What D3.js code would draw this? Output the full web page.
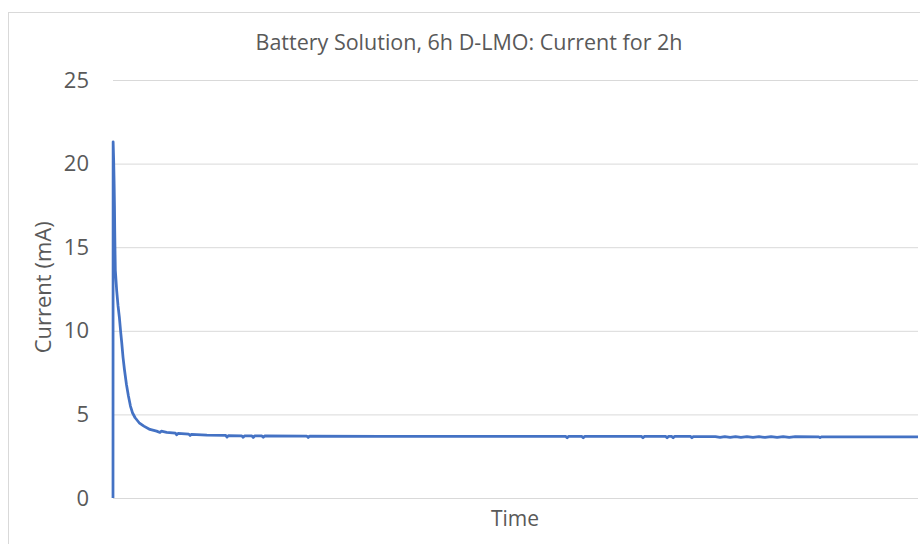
<!DOCTYPE html>
<html>
<head>
<meta charset="utf-8">
<script src="https://cdn.jsdelivr.net/npm/d3@7/dist/d3.min.js"></script>
<style>
  html, body { margin: 0; padding: 0; background: #fff; }
  svg text { font-family: "Open Sans", "Noto Sans", sans-serif; fill: #595959; }
</style>
</head>
<body>
<div id="chart"></div>
<script>
// Datos (tiempo en minutos, corriente en mA)
const timeMin = [
  0, 0.02, 0.1, 0.17, 0.22, 0.26, 0.3, 0.35, 0.42, 0.55, 0.75, 0.95, 1.15, 1.3, 1.5, 1.7,
  2.0, 2.3, 2.6, 2.9, 3.3, 3.9, 4.6, 5.5, 6.5, 7.0, 7.2, 8.0, 9.3, 9.5, 9.7, 11.3, 11.5, 11.7,
  14.0, 16.8, 17.0, 17.2, 19.2, 19.4, 19.6, 20.7, 20.9, 21.1, 22.2, 22.4, 22.6,
  28.9, 29.1, 29.3, 40, 55, 67.5, 67.7, 67.9, 69.9, 70.1, 70.3, 78.8, 79.0, 79.2,
  82.4, 82.6, 82.8, 83.3, 83.5, 83.7, 86.1, 86.3, 86.5,
  89.8, 90.5, 91.2, 92.0, 92.8, 93.6, 94.5, 95.4, 96.3, 97.2, 98.1, 99.0, 99.9, 100.8, 101.7,
  105.2, 105.4, 105.6, 120
];
const currentMA = [
  0, 21.3, 20.2, 18.8, 17.5, 16.0, 14.8, 13.6, 13.2, 12.4, 11.5, 10.8, 9.9, 9.3, 8.4, 7.7,
  6.8, 6.1, 5.5, 5.1, 4.8, 4.5, 4.3, 4.1, 4.0, 3.92, 4.0, 3.93, 3.88, 3.78, 3.87, 3.82, 3.74, 3.8,
  3.76, 3.74, 3.64, 3.73, 3.72, 3.63, 3.72, 3.72, 3.62, 3.71, 3.71, 3.63, 3.71,
  3.70, 3.62, 3.70, 3.69, 3.69, 3.68, 3.60, 3.68, 3.68, 3.60, 3.68, 3.68, 3.60, 3.68,
  3.68, 3.60, 3.68, 3.68, 3.60, 3.68, 3.68, 3.60, 3.67,
  3.67, 3.62, 3.67, 3.62, 3.67, 3.62, 3.67, 3.62, 3.67, 3.62, 3.67, 3.62, 3.67, 3.62, 3.67,
  3.66, 3.61, 3.66, 3.65
];
const yTicks = [0, 5, 10, 15, 20, 25];

const chartTitle = 'Battery Solution, 6h D-LMO: Current for 2h';
const yTitle = 'Current (mA)';
const xTitle = 'Time';

// Medidas generales
const W = 920, H = 544;
const margin = {top: 80, right: 2, bottom: 46, left: 113};
const width = W - margin.left - margin.right,
      height = H - margin.top - margin.bottom;

const data = timeMin.map((t, i) => ({t: t, v: currentMA[i]}));

const svg = d3.select('#chart')
  .append('svg')
    .attr('width', W)
    .attr('height', H);

// Borde del área del gráfico
svg.append('rect')
  .attr('x', 8.5).attr('y', 12.5)
  .attr('width', 1000).attr('height', 600)
  .attr('fill', 'none')
  .attr('stroke', '#d9d9d9');

const chart = svg.append('g')
  .attr('transform', 'translate(' + margin.left + ',' + margin.top + ')');

// Escalas
const x = d3.scaleLinear()
  .domain([0, 120])
  .range([0, width]);

const y = d3.scaleLinear()
  .domain([0, 25])
  .range([height, 0]);

// Líneas de rejilla + etiquetas del eje Y
const yAxis = d3.axisLeft(y)
  .tickValues(yTicks)
  .tickSize(-width)
  .tickPadding(24);

chart.append('g')
  .attr('class', 'yaxis')
  .call(yAxis)
  .call(g => g.select('.domain').remove())
  .call(g => g.selectAll('.tick line').attr('stroke', '#d9d9d9').attr('stroke-width', 1))
  .call(g => g.selectAll('.tick text').style('font-size', '22px').attr('fill', '#595959'));

// Serie
const line = d3.line()
  .x(d => x(d.t))
  .y(d => y(d.v));

chart.append('path')
  .datum(data)
  .attr('fill', 'none')
  .attr('stroke', '#4472C4')
  .attr('stroke-width', 2.75)
  .attr('stroke-linejoin', 'round')
  .attr('d', line);

// Títulos
svg.append('text')
  .attr('x', 469)
  .attr('y', 50)
  .attr('text-anchor', 'middle')
  .style('font-size', '21.5px')
  .text(chartTitle);

svg.append('text')
  .attr('transform', 'translate(51,' + (margin.top + y(12.6)) + ') rotate(-90)')
  .attr('text-anchor', 'middle')
  .style('font-size', '22px')
  .text(yTitle);

svg.append('text')
  .attr('x', 515)
  .attr('y', 526)
  .attr('text-anchor', 'middle')
  .style('font-size', '21px')
  .text(xTitle);
</script>
</body>
</html>
